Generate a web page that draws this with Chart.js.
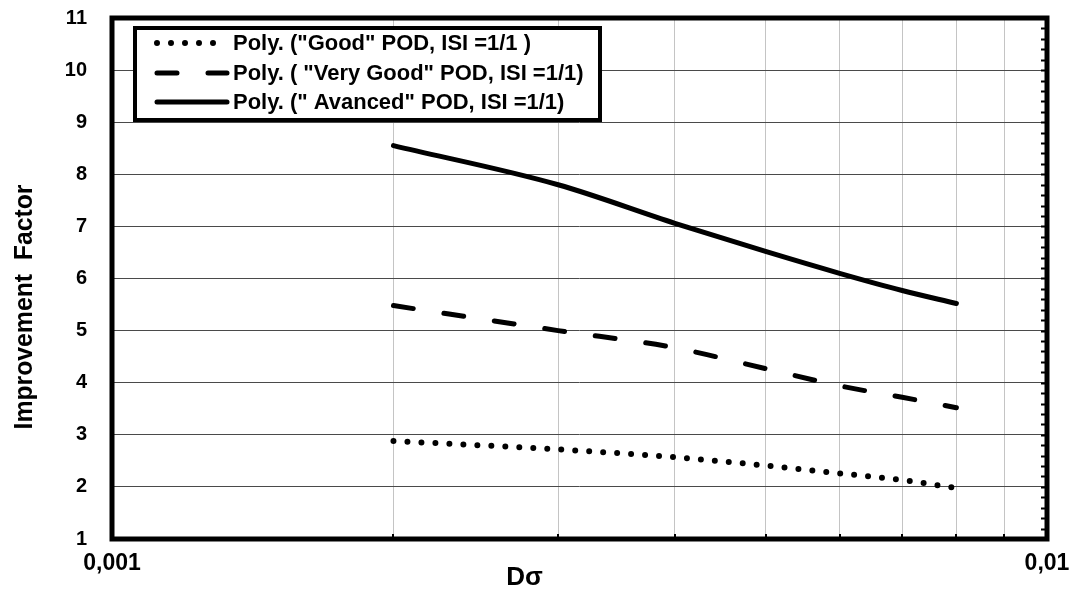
<!DOCTYPE html>
<html>
<head>
<meta charset="utf-8">
<script src="https://cdn.jsdelivr.net/npm/chart.js@4/dist/chart.umd.min.js"></script>
<style>
  html, body { margin: 0; padding: 0; background: #fff; }
  #wrap { width: 1076px; height: 592px; }
</style>
</head>
<body>
<div id="wrap"><canvas id="chart"></canvas></div>
<script>
const dSigma = [0.002, 0.003, 0.004, 0.005, 0.006, 0.007, 0.008];
const goodPod = [2.88, 2.72, 2.57, 2.41, 2.26, 2.13, 1.98];
const veryGoodPod = [5.48, 5.00, 4.67, 4.27, 3.94, 3.72, 3.52];
const advancedPod = [8.55, 7.80, 7.06, 6.52, 6.10, 5.77, 5.52];
const seriesLabels = [
    'Poly. ("Good" POD, ISI =1/1 )',
    'Poly. ( "Very Good" POD, ISI =1/1)',
    'Poly. (" Avanced" POD, ISI =1/1)'
];
const xGridValues = [0.001, 0.002, 0.003, 0.004, 0.005, 0.006, 0.007, 0.008, 0.009, 0.01];
const xTickLabels = { 0.001: '0,001', 0.01: '0,01' };
const xTitle = 'Dσ';
const yTitle = 'Improvement  Factor';

const fontFamily = '"Liberation Sans", Arial, sans-serif';

function toPoints(ys) {
    return dSigma.map((x, i) => ({ x: x, y: ys[i] }));
}

// squeeze text sideways so it fills a given width
function fitText(ctx, text, x, y, width) {
    const w = ctx.measureText(text).width;
    ctx.save();
    ctx.translate(x, y);
    ctx.scale(width / w, 1);
    ctx.fillText(text, 0, 0);
    ctx.restore();
}

// frame, minor ticks, axis titles and the boxed legend
const framePlugin = {
    id: 'frame',
    afterDraw(chart) {
        const ctx = chart.ctx;
        const a = chart.chartArea;
        const xs = chart.scales.x, ys = chart.scales.y;
        ctx.save();
        ctx.strokeStyle = '#000';
        ctx.fillStyle = '#000';

        // little inside ticks on the right border and on the bottom axis
        ctx.lineWidth = 2;
        ctx.beginPath();
        for (let v = 1; v <= 11.001; v += 0.2) {
            const py = Math.round(ys.getPixelForValue(v)) + 0.5;
            ctx.moveTo(a.right - 6, py);
            ctx.lineTo(a.right, py);
        }
        xGridValues.forEach(v => {
            const px = Math.round(xs.getPixelForValue(v));
            ctx.moveTo(px, a.bottom);
            ctx.lineTo(px, a.bottom - 5);
        });
        ctx.stroke();

        ctx.lineWidth = 5;
        ctx.strokeRect(a.left, a.top, a.right - a.left, a.bottom - a.top);

        // axis titles
        ctx.font = 'bold 26px ' + fontFamily;
        ctx.textAlign = 'center';
        ctx.textBaseline = 'middle';
        ctx.fillText(xTitle, (a.left + a.right) / 2 - 55, 578);
        ctx.save();
        ctx.translate(25, 307);
        ctx.rotate(-Math.PI / 2);
        fitText(ctx, yTitle, 0, 0, 245);
        ctx.restore();

        // legend
        const bx = 135, by = 28, bw = 465, bh = 92;
        ctx.fillStyle = '#fff';
        ctx.fillRect(bx, by, bw, bh);
        ctx.lineWidth = 4;
        ctx.strokeRect(bx, by, bw, bh);
        const rows = [43, 73, 102];
        ctx.font = 'bold 22px ' + fontFamily;
        const sx = 298 / ctx.measureText(seriesLabels[0]).width;
        chart.data.datasets.forEach((ds, i) => {
            const y = rows[i];
            ctx.beginPath();
            ctx.lineWidth = ds.borderWidth;
            ctx.lineCap = ds.borderCapStyle || 'butt';
            ctx.setLineDash(ds.borderDash || []);
            ctx.moveTo(157, y);
            ctx.lineTo(227, y);
            ctx.stroke();
            ctx.setLineDash([]);
            ctx.fillStyle = '#000';
            ctx.textBaseline = 'middle';
            ctx.textAlign = 'left';
            ctx.save();
            ctx.translate(233, y + 1);
            ctx.scale(sx, 1);
            ctx.fillText(ds.label, 0, 0);
            ctx.restore();
        });
        ctx.restore();
    }
};

new Chart(document.getElementById('chart'), {
    type: 'line',
    data: {
        datasets: [
            {
                label: seriesLabels[0],
                data: toPoints(goodPod),
                borderColor: '#000',
                borderWidth: 6,
                borderDash: [0, 14],
                borderCapStyle: 'round',
                pointRadius: 0,
                cubicInterpolationMode: 'monotone'
            },
            {
                label: seriesLabels[1],
                data: toPoints(veryGoodPod),
                borderColor: '#000',
                borderWidth: 5,
                borderDash: [20, 31],
                borderCapStyle: 'round',
                pointRadius: 0,
                cubicInterpolationMode: 'monotone'
            },
            {
                label: seriesLabels[2],
                data: toPoints(advancedPod),
                borderColor: '#000',
                borderWidth: 5,
                borderCapStyle: 'round',
                pointRadius: 0,
                cubicInterpolationMode: 'monotone'
            }
        ]
    },
    options: {
        responsive: true,
        maintainAspectRatio: false,
        animation: false,
        layout: { padding: { top: 18, right: 29, left: 0, bottom: 0 } },
        scales: {
            x: {
                type: 'logarithmic',
                min: 0.001,
                max: 0.01,
                afterBuildTicks: s => { s.ticks = xGridValues.map(v => ({ value: v })); },
                afterFit: s => { s.height = 53; s.paddingLeft = 0; s.paddingRight = 0; },
                grid: { color: '#c4c4c4', lineWidth: 1, drawTicks: false },
                border: { display: false },
                ticks: {
                    padding: 11,
                    autoSkip: false,
                    maxRotation: 0,
                    color: '#000',
                    font: { family: fontFamily, size: 23, weight: 'bold' },
                    callback: function(value) {
                        return xTickLabels[value] || '';
                    }
                }
            },
            y: {
                min: 1,
                max: 11,
                afterFit: s => { s.width = 112; s.paddingTop = 0; s.paddingBottom = 0; },
                grid: { color: '#4a4a4a', lineWidth: 1, drawTicks: false },
                border: { display: false },
                ticks: {
                    stepSize: 1,
                    padding: 25,
                    color: '#000',
                    font: { family: fontFamily, size: 20, weight: 'bold' }
                }
            }
        },
        plugins: {
            legend: { display: false },
            tooltip: { enabled: false }
        }
    },
    plugins: [framePlugin]
});
</script>
</body>
</html>
